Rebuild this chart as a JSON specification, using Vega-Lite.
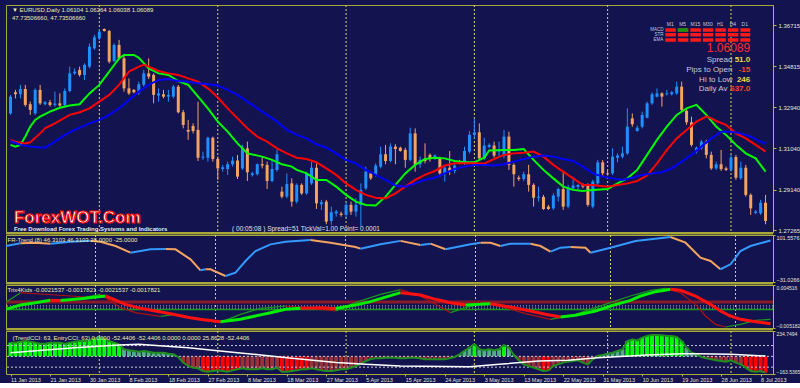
{
"$schema":"https://vega.github.io/schema/vega-lite/v6.json",
"background":"#13134f",
"padding":{"left":4,"top":4,"right":0,"bottom":0},
"spacing":3,
"bounds":"flush",
"resolve":{"scale":{"color":"independent"}},
"config":{
 "view":{"stroke":"#a8a838","strokeWidth":1,"fill":"#13134f"},
 "axis":{"labelFont":"Liberation Sans","labelFontSize":6,"labelColor":"#e4e4d8","domainColor":"#b8b840","tickColor":"#b8b840","tickSize":3,"grid":false,"labelPadding":2},
 "text":{"font":"Liberation Sans"}
},
"datasets":{
"seps":[{"i":18},{"i":42},{"i":68},{"i":94},{"i":121},{"i":146}],
"candles":[
{"i":0,"o":1.3265,"h":1.335,"l":1.3258,"c":1.3342},
{"i":1,"o":1.3362,"h":1.3373,"l":1.3334,"c":1.3353},
{"i":2,"o":1.3353,"h":1.3396,"l":1.3334,"c":1.3377},
{"i":3,"o":1.3377,"h":1.3396,"l":1.3296,"c":1.3304},
{"i":4,"o":1.3307,"h":1.3319,"l":1.3258,"c":1.3281},
{"i":5,"o":1.3265,"h":1.338,"l":1.3258,"c":1.3373},
{"i":6,"o":1.3373,"h":1.3396,"l":1.3304,"c":1.3311},
{"i":7,"o":1.3307,"h":1.3322,"l":1.3301,"c":1.3316},
{"i":8,"o":1.3316,"h":1.3327,"l":1.3296,"c":1.3304},
{"i":9,"o":1.3304,"h":1.3365,"l":1.3296,"c":1.331},
{"i":10,"o":1.3311,"h":1.3357,"l":1.3296,"c":1.3301},
{"i":11,"o":1.3304,"h":1.338,"l":1.3296,"c":1.3368},
{"i":12,"o":1.3368,"h":1.348,"l":1.3362,"c":1.3449},
{"i":13,"o":1.3449,"h":1.3472,"l":1.3442,"c":1.3457},
{"i":14,"o":1.3465,"h":1.348,"l":1.3434,"c":1.3442},
{"i":15,"o":1.3442,"h":1.3495,"l":1.3419,"c":1.3488},
{"i":16,"o":1.348,"h":1.3587,"l":1.3472,"c":1.3572},
{"i":17,"o":1.3564,"h":1.3626,"l":1.3557,"c":1.3615},
{"i":18,"o":1.361,"h":1.3653,"l":1.3603,"c":1.3641},
{"i":19,"o":1.3653,"h":1.3656,"l":1.3641,"c":1.3644},
{"i":20,"o":1.3644,"h":1.3649,"l":1.3495,"c":1.3503},
{"i":21,"o":1.3506,"h":1.3587,"l":1.35,"c":1.358},
{"i":22,"o":1.358,"h":1.3603,"l":1.3511,"c":1.3518},
{"i":23,"o":1.3518,"h":1.3534,"l":1.3365,"c":1.338},
{"i":24,"o":1.338,"h":1.3426,"l":1.335,"c":1.3357},
{"i":25,"o":1.3373,"h":1.3377,"l":1.3357,"c":1.3362},
{"i":26,"o":1.3362,"h":1.3411,"l":1.335,"c":1.3399},
{"i":27,"o":1.3396,"h":1.3465,"l":1.3388,"c":1.3449},
{"i":28,"o":1.3449,"h":1.3518,"l":1.3423,"c":1.3434},
{"i":29,"o":1.3442,"h":1.3449,"l":1.3311,"c":1.335},
{"i":30,"o":1.3347,"h":1.338,"l":1.3319,"c":1.3357},
{"i":31,"o":1.3353,"h":1.3373,"l":1.3334,"c":1.3342},
{"i":32,"o":1.3342,"h":1.3373,"l":1.3319,"c":1.335},
{"i":33,"o":1.3342,"h":1.3396,"l":1.3334,"c":1.3388},
{"i":34,"o":1.3388,"h":1.3396,"l":1.3265,"c":1.327},
{"i":35,"o":1.327,"h":1.3281,"l":1.3196,"c":1.3212},
{"i":36,"o":1.3189,"h":1.3235,"l":1.3143,"c":1.3181},
{"i":37,"o":1.3207,"h":1.3219,"l":1.3173,"c":1.3184},
{"i":38,"o":1.3189,"h":1.3319,"l":1.3046,"c":1.3061},
{"i":39,"o":1.3061,"h":1.3089,"l":1.3051,"c":1.3066},
{"i":40,"o":1.3061,"h":1.3158,"l":1.3043,"c":1.3153},
{"i":41,"o":1.3153,"h":1.3158,"l":1.3043,"c":1.3055},
{"i":42,"o":1.3055,"h":1.3066,"l":1.2959,"c":1.3012},
{"i":43,"o":1.3009,"h":1.3028,"l":1.2997,"c":1.3017},
{"i":44,"o":1.3009,"h":1.3043,"l":1.2982,"c":1.3031},
{"i":45,"o":1.3031,"h":1.3066,"l":1.302,"c":1.3048},
{"i":46,"o":1.3048,"h":1.3074,"l":1.2963,"c":1.2974},
{"i":47,"o":1.3012,"h":1.312,"l":1.3005,"c":1.3107},
{"i":48,"o":1.3104,"h":1.3135,"l":1.2954,"c":1.2994},
{"i":49,"o":1.2982,"h":1.2997,"l":1.2974,"c":1.2989},
{"i":50,"o":1.2985,"h":1.3035,"l":1.2979,"c":1.3031},
{"i":51,"o":1.3031,"h":1.3066,"l":1.3012,"c":1.3025},
{"i":52,"o":1.3028,"h":1.3043,"l":1.2917,"c":1.2954},
{"i":53,"o":1.2954,"h":1.3051,"l":1.2948,"c":1.3009},
{"i":54,"o":1.3005,"h":1.3097,"l":1.2997,"c":1.3077},
{"i":55,"o":1.2905,"h":1.2928,"l":1.2874,"c":1.2882},
{"i":56,"o":1.2882,"h":1.2989,"l":1.2874,"c":1.294},
{"i":57,"o":1.2943,"h":1.2966,"l":1.2836,"c":1.2859},
{"i":58,"o":1.2859,"h":1.2943,"l":1.2851,"c":1.2936},
{"i":59,"o":1.2936,"h":1.2943,"l":1.289,"c":1.2897},
{"i":60,"o":1.2897,"h":1.2997,"l":1.289,"c":1.2989},
{"i":61,"o":1.2943,"h":1.3043,"l":1.2936,"c":1.3015},
{"i":62,"o":1.3015,"h":1.3035,"l":1.2825,"c":1.2851},
{"i":63,"o":1.2847,"h":1.2867,"l":1.2821,"c":1.2856},
{"i":64,"o":1.2859,"h":1.2867,"l":1.2755,"c":1.2767},
{"i":65,"o":1.277,"h":1.2836,"l":1.2752,"c":1.281},
{"i":66,"o":1.2805,"h":1.2821,"l":1.279,"c":1.2813},
{"i":67,"o":1.2804,"h":1.2813,"l":1.279,"c":1.2798},
{"i":68,"o":1.2798,"h":1.2859,"l":1.2782,"c":1.2844},
{"i":69,"o":1.2844,"h":1.2859,"l":1.2798,"c":1.2813},
{"i":70,"o":1.2813,"h":1.2874,"l":1.279,"c":1.2844},
{"i":71,"o":1.2844,"h":1.2943,"l":1.2744,"c":1.2913},
{"i":72,"o":1.292,"h":1.302,"l":1.2913,"c":1.2997},
{"i":73,"o":1.2989,"h":1.2997,"l":1.2959,"c":1.2966},
{"i":74,"o":1.2982,"h":1.3035,"l":1.2974,"c":1.3025},
{"i":75,"o":1.302,"h":1.3112,"l":1.3012,"c":1.3077},
{"i":76,"o":1.3077,"h":1.312,"l":1.3031,"c":1.3046},
{"i":77,"o":1.3046,"h":1.3127,"l":1.304,"c":1.3112},
{"i":78,"o":1.3112,"h":1.3123,"l":1.3031,"c":1.3101},
{"i":79,"o":1.3107,"h":1.3112,"l":1.3089,"c":1.3092},
{"i":80,"o":1.3097,"h":1.3107,"l":1.3015,"c":1.3051},
{"i":81,"o":1.3051,"h":1.3199,"l":1.3043,"c":1.3173},
{"i":82,"o":1.3173,"h":1.3196,"l":1.2997,"c":1.3028},
{"i":83,"o":1.3031,"h":1.3066,"l":1.3015,"c":1.3051},
{"i":84,"o":1.3055,"h":1.3127,"l":1.3035,"c":1.3046},
{"i":85,"o":1.3074,"h":1.3081,"l":1.3043,"c":1.3055},
{"i":86,"o":1.3058,"h":1.3077,"l":1.3051,"c":1.3071},
{"i":87,"o":1.3055,"h":1.3066,"l":1.2974,"c":1.2989},
{"i":88,"o":1.2989,"h":1.3028,"l":1.2951,"c":1.3015},
{"i":89,"o":1.3015,"h":1.3092,"l":1.2982,"c":1.3},
{"i":90,"o":1.3,"h":1.3035,"l":1.2989,"c":1.3025},
{"i":91,"o":1.3043,"h":1.3051,"l":1.3031,"c":1.3035},
{"i":92,"o":1.3035,"h":1.3112,"l":1.3028,"c":1.3092},
{"i":93,"o":1.3089,"h":1.3184,"l":1.3081,"c":1.3166},
{"i":94,"o":1.3166,"h":1.3242,"l":1.315,"c":1.3178},
{"i":95,"o":1.3178,"h":1.3219,"l":1.3046,"c":1.3058},
{"i":96,"o":1.3058,"h":1.3153,"l":1.3051,"c":1.3117},
{"i":97,"o":1.3111,"h":1.3127,"l":1.3104,"c":1.312},
{"i":98,"o":1.3117,"h":1.3135,"l":1.3061,"c":1.3071},
{"i":99,"o":1.3089,"h":1.3135,"l":1.3066,"c":1.3097},
{"i":100,"o":1.3071,"h":1.3189,"l":1.3058,"c":1.3158},
{"i":101,"o":1.3158,"h":1.3181,"l":1.3005,"c":1.3028},
{"i":102,"o":1.3028,"h":1.3035,"l":1.2928,"c":1.2985},
{"i":103,"o":1.2969,"h":1.2979,"l":1.2954,"c":1.2963},
{"i":104,"o":1.2963,"h":1.2997,"l":1.2954,"c":1.2985},
{"i":105,"o":1.2985,"h":1.3028,"l":1.2905,"c":1.2936},
{"i":106,"o":1.2936,"h":1.2943,"l":1.2836,"c":1.2877},
{"i":107,"o":1.2877,"h":1.2928,"l":1.2859,"c":1.2882},
{"i":108,"o":1.2881,"h":1.289,"l":1.2821,"c":1.2825},
{"i":109,"o":1.2836,"h":1.2844,"l":1.2821,"c":1.2825},
{"i":110,"o":1.2828,"h":1.2897,"l":1.2821,"c":1.2887},
{"i":111,"o":1.2882,"h":1.2924,"l":1.2859,"c":1.2917},
{"i":112,"o":1.2917,"h":1.2997,"l":1.2821,"c":1.2836},
{"i":113,"o":1.2836,"h":1.2936,"l":1.2828,"c":1.2924},
{"i":114,"o":1.292,"h":1.2974,"l":1.2913,"c":1.2933},
{"i":115,"o":1.2927,"h":1.2939,"l":1.2913,"c":1.2936},
{"i":116,"o":1.2939,"h":1.2943,"l":1.292,"c":1.2928},
{"i":117,"o":1.2936,"h":1.2943,"l":1.2836,"c":1.2844},
{"i":118,"o":1.2836,"h":1.2959,"l":1.2828,"c":1.2951},
{"i":119,"o":1.2943,"h":1.3051,"l":1.2936,"c":1.304},
{"i":120,"o":1.304,"h":1.3051,"l":1.2979,"c":1.2989},
{"i":121,"o":1.2989,"h":1.3,"l":1.2979,"c":1.2985},
{"i":122,"o":1.2989,"h":1.3104,"l":1.2982,"c":1.3066},
{"i":123,"o":1.3061,"h":1.3081,"l":1.304,"c":1.3071},
{"i":124,"o":1.3066,"h":1.3112,"l":1.3058,"c":1.3081},
{"i":125,"o":1.3081,"h":1.3288,"l":1.3074,"c":1.3204},
{"i":126,"o":1.3242,"h":1.3265,"l":1.3204,"c":1.3215},
{"i":127,"o":1.3184,"h":1.3209,"l":1.3181,"c":1.3199},
{"i":128,"o":1.3204,"h":1.3273,"l":1.3196,"c":1.3258},
{"i":129,"o":1.3245,"h":1.3319,"l":1.3242,"c":1.3311},
{"i":130,"o":1.3311,"h":1.3362,"l":1.3304,"c":1.3353},
{"i":131,"o":1.3342,"h":1.338,"l":1.3338,"c":1.3357},
{"i":132,"o":1.3357,"h":1.3362,"l":1.3296,"c":1.3342},
{"i":133,"o":1.3353,"h":1.3373,"l":1.3347,"c":1.3357},
{"i":134,"o":1.3353,"h":1.3368,"l":1.3347,"c":1.3362},
{"i":135,"o":1.3357,"h":1.3411,"l":1.335,"c":1.3388},
{"i":136,"o":1.3388,"h":1.3411,"l":1.3273,"c":1.3281},
{"i":137,"o":1.3277,"h":1.3288,"l":1.3212,"c":1.3224},
{"i":138,"o":1.3224,"h":1.325,"l":1.3112,"c":1.312},
{"i":139,"o":1.3089,"h":1.3112,"l":1.3081,"c":1.3107},
{"i":140,"o":1.3104,"h":1.3143,"l":1.3097,"c":1.3135},
{"i":141,"o":1.3135,"h":1.3143,"l":1.3058,"c":1.3074},
{"i":142,"o":1.3074,"h":1.3089,"l":1.3005,"c":1.3012},
{"i":143,"o":1.3012,"h":1.3043,"l":1.3005,"c":1.3031},
{"i":144,"o":1.3031,"h":1.3097,"l":1.3,"c":1.3009},
{"i":145,"o":1.3012,"h":1.302,"l":1.3,"c":1.3005},
{"i":146,"o":1.3005,"h":1.3074,"l":1.2997,"c":1.3061},
{"i":147,"o":1.3064,"h":1.3074,"l":1.2959,"c":1.2969},
{"i":148,"o":1.2966,"h":1.3043,"l":1.2959,"c":1.3015},
{"i":149,"o":1.3015,"h":1.3028,"l":1.2882,"c":1.289},
{"i":150,"o":1.289,"h":1.2897,"l":1.2798,"c":1.2828},
{"i":151,"o":1.2807,"h":1.2821,"l":1.2801,"c":1.2813},
{"i":152,"o":1.2805,"h":1.2867,"l":1.2798,"c":1.2854},
{"i":153,"o":1.2854,"h":1.289,"l":1.2755,"c":1.277}
],
"ma":[
{"i":0,"v":1.312,"s":"fast"},{"i":1,"v":1.3112,"s":"fast"},{"i":2,"v":1.312,"s":"fast"},{"i":3,"v":1.3158,"s":"fast"},{"i":4,"v":1.3204,"s":"fast"},{"i":5,"v":1.3235,"s":"fast"},{"i":6,"v":1.325,"s":"fast"},{"i":8,"v":1.3273,"s":"fast"},{"i":10,"v":1.3291,"s":"fast"},{"i":12,"v":1.3301,"s":"fast"},{"i":14,"v":1.3307,"s":"fast"},{"i":16,"v":1.3357,"s":"fast"},{"i":18,"v":1.3396,"s":"fast"},{"i":20,"v":1.3457,"s":"fast"},{"i":22,"v":1.3518,"s":"fast"},{"i":23,"v":1.3534,"s":"fast"},{"i":25,"v":1.3534,"s":"fast"},{"i":26,"v":1.3521,"s":"fast"},{"i":28,"v":1.3472,"s":"fast"},{"i":30,"v":1.3449,"s":"fast"},{"i":32,"v":1.3442,"s":"fast"},{"i":34,"v":1.3414,"s":"fast"},{"i":36,"v":1.3396,"s":"fast"},{"i":38,"v":1.3342,"s":"fast"},{"i":40,"v":1.3288,"s":"fast"},{"i":42,"v":1.3227,"s":"fast"},{"i":44,"v":1.3181,"s":"fast"},{"i":46,"v":1.3127,"s":"fast"},{"i":48,"v":1.3081,"s":"fast"},{"i":51,"v":1.3066,"s":"fast"},{"i":53,"v":1.3051,"s":"fast"},{"i":55,"v":1.3031,"s":"fast"},{"i":57,"v":1.302,"s":"fast"},{"i":58,"v":1.3005,"s":"fast"},{"i":60,"v":1.2989,"s":"fast"},{"i":62,"v":1.2959,"s":"fast"},{"i":64,"v":1.2959,"s":"fast"},{"i":66,"v":1.2928,"s":"fast"},{"i":68,"v":1.289,"s":"fast"},{"i":70,"v":1.2859,"s":"fast"},{"i":72,"v":1.2844,"s":"fast"},{"i":74,"v":1.2841,"s":"fast"},{"i":76,"v":1.2882,"s":"fast"},{"i":78,"v":1.2936,"s":"fast"},{"i":80,"v":1.2989,"s":"fast"},{"i":82,"v":1.3028,"s":"fast"},{"i":84,"v":1.3055,"s":"fast"},{"i":86,"v":1.3061,"s":"fast"},{"i":88,"v":1.3058,"s":"fast"},{"i":90,"v":1.3046,"s":"fast"},{"i":92,"v":1.304,"s":"fast"},{"i":94,"v":1.304,"s":"fast"},{"i":96,"v":1.3061,"s":"fast"},{"i":97,"v":1.3094,"s":"fast"},{"i":100,"v":1.3097,"s":"fast"},{"i":102,"v":1.3097,"s":"fast"},{"i":104,"v":1.3101,"s":"fast"},{"i":106,"v":1.3051,"s":"fast"},{"i":108,"v":1.3005,"s":"fast"},{"i":110,"v":1.2966,"s":"fast"},{"i":112,"v":1.2928,"s":"fast"},{"i":114,"v":1.2913,"s":"fast"},{"i":116,"v":1.2908,"s":"fast"},{"i":118,"v":1.2913,"s":"fast"},{"i":121,"v":1.2917,"s":"fast"},{"i":123,"v":1.2943,"s":"fast"},{"i":125,"v":1.2966,"s":"fast"},{"i":127,"v":1.3005,"s":"fast"},{"i":129,"v":1.3074,"s":"fast"},{"i":131,"v":1.3143,"s":"fast"},{"i":133,"v":1.3204,"s":"fast"},{"i":135,"v":1.3258,"s":"fast"},{"i":137,"v":1.3288,"s":"fast"},{"i":139,"v":1.3304,"s":"fast"},{"i":141,"v":1.3258,"s":"fast"},{"i":143,"v":1.3204,"s":"fast"},{"i":145,"v":1.3166,"s":"fast"},{"i":147,"v":1.312,"s":"fast"},{"i":149,"v":1.3081,"s":"fast"},{"i":151,"v":1.3058,"s":"fast"},{"i":153,"v":1.2997,"s":"fast"},
{"i":0,"v":1.3143,"s":"mid"},{"i":1,"v":1.3135,"s":"mid"},{"i":3,"v":1.3127,"s":"mid"},{"i":4,"v":1.3132,"s":"mid"},{"i":6,"v":1.3173,"s":"mid"},{"i":7,"v":1.3196,"s":"mid"},{"i":9,"v":1.3219,"s":"mid"},{"i":12,"v":1.3258,"s":"mid"},{"i":14,"v":1.327,"s":"mid"},{"i":16,"v":1.3288,"s":"mid"},{"i":18,"v":1.3319,"s":"mid"},{"i":20,"v":1.335,"s":"mid"},{"i":22,"v":1.3396,"s":"mid"},{"i":24,"v":1.3457,"s":"mid"},{"i":26,"v":1.348,"s":"mid"},{"i":27,"v":1.3488,"s":"mid"},{"i":28,"v":1.348,"s":"mid"},{"i":30,"v":1.346,"s":"mid"},{"i":32,"v":1.3449,"s":"mid"},{"i":34,"v":1.3442,"s":"mid"},{"i":36,"v":1.3426,"s":"mid"},{"i":38,"v":1.3411,"s":"mid"},{"i":40,"v":1.338,"s":"mid"},{"i":42,"v":1.3338,"s":"mid"},{"i":44,"v":1.3288,"s":"mid"},{"i":46,"v":1.3242,"s":"mid"},{"i":48,"v":1.3196,"s":"mid"},{"i":50,"v":1.3158,"s":"mid"},{"i":52,"v":1.3135,"s":"mid"},{"i":54,"v":1.3104,"s":"mid"},{"i":56,"v":1.3081,"s":"mid"},{"i":58,"v":1.3061,"s":"mid"},{"i":60,"v":1.3055,"s":"mid"},{"i":62,"v":1.304,"s":"mid"},{"i":64,"v":1.3012,"s":"mid"},{"i":66,"v":1.2982,"s":"mid"},{"i":68,"v":1.2943,"s":"mid"},{"i":70,"v":1.2913,"s":"mid"},{"i":72,"v":1.289,"s":"mid"},{"i":74,"v":1.2877,"s":"mid"},{"i":76,"v":1.2874,"s":"mid"},{"i":78,"v":1.2897,"s":"mid"},{"i":80,"v":1.2928,"s":"mid"},{"i":82,"v":1.2959,"s":"mid"},{"i":84,"v":1.2982,"s":"mid"},{"i":86,"v":1.3,"s":"mid"},{"i":88,"v":1.3025,"s":"mid"},{"i":90,"v":1.3035,"s":"mid"},{"i":92,"v":1.3035,"s":"mid"},{"i":94,"v":1.3035,"s":"mid"},{"i":96,"v":1.3034,"s":"mid"},{"i":98,"v":1.3055,"s":"mid"},{"i":100,"v":1.3074,"s":"mid"},{"i":102,"v":1.3081,"s":"mid"},{"i":104,"v":1.3084,"s":"mid"},{"i":106,"v":1.3089,"s":"mid"},{"i":108,"v":1.3066,"s":"mid"},{"i":110,"v":1.3028,"s":"mid"},{"i":112,"v":1.2997,"s":"mid"},{"i":114,"v":1.2966,"s":"mid"},{"i":116,"v":1.2936,"s":"mid"},{"i":118,"v":1.2936,"s":"mid"},{"i":121,"v":1.2928,"s":"mid"},{"i":123,"v":1.2936,"s":"mid"},{"i":125,"v":1.2943,"s":"mid"},{"i":127,"v":1.2954,"s":"mid"},{"i":129,"v":1.2979,"s":"mid"},{"i":131,"v":1.3035,"s":"mid"},{"i":133,"v":1.3097,"s":"mid"},{"i":135,"v":1.315,"s":"mid"},{"i":137,"v":1.3189,"s":"mid"},{"i":139,"v":1.3227,"s":"mid"},{"i":141,"v":1.325,"s":"mid"},{"i":142,"v":1.3242,"s":"mid"},{"i":143,"v":1.323,"s":"mid"},{"i":145,"v":1.3212,"s":"mid"},{"i":147,"v":1.3173,"s":"mid"},{"i":149,"v":1.315,"s":"mid"},{"i":151,"v":1.312,"s":"mid"},{"i":153,"v":1.3089,"s":"mid"},
{"i":0,"v":1.3138,"s":"slow"},{"i":2,"v":1.312,"s":"slow"},{"i":4,"v":1.3112,"s":"slow"},{"i":7,"v":1.3107,"s":"slow"},{"i":9,"v":1.3135,"s":"slow"},{"i":11,"v":1.3166,"s":"slow"},{"i":13,"v":1.3189,"s":"slow"},{"i":16,"v":1.3219,"s":"slow"},{"i":18,"v":1.3235,"s":"slow"},{"i":20,"v":1.3258,"s":"slow"},{"i":22,"v":1.3288,"s":"slow"},{"i":24,"v":1.3327,"s":"slow"},{"i":26,"v":1.3365,"s":"slow"},{"i":28,"v":1.3396,"s":"slow"},{"i":30,"v":1.3419,"s":"slow"},{"i":32,"v":1.3423,"s":"slow"},{"i":34,"v":1.3414,"s":"slow"},{"i":36,"v":1.3411,"s":"slow"},{"i":38,"v":1.3403,"s":"slow"},{"i":40,"v":1.3399,"s":"slow"},{"i":42,"v":1.3393,"s":"slow"},{"i":44,"v":1.3373,"s":"slow"},{"i":46,"v":1.335,"s":"slow"},{"i":48,"v":1.3319,"s":"slow"},{"i":50,"v":1.3288,"s":"slow"},{"i":52,"v":1.3258,"s":"slow"},{"i":54,"v":1.3227,"s":"slow"},{"i":56,"v":1.3189,"s":"slow"},{"i":58,"v":1.3166,"s":"slow"},{"i":60,"v":1.315,"s":"slow"},{"i":62,"v":1.3123,"s":"slow"},{"i":64,"v":1.3107,"s":"slow"},{"i":66,"v":1.3081,"s":"slow"},{"i":68,"v":1.3051,"s":"slow"},{"i":70,"v":1.3035,"s":"slow"},{"i":72,"v":1.3005,"s":"slow"},{"i":74,"v":1.2982,"s":"slow"},{"i":76,"v":1.2959,"s":"slow"},{"i":78,"v":1.2933,"s":"slow"},{"i":80,"v":1.2928,"s":"slow"},{"i":82,"v":1.2943,"s":"slow"},{"i":84,"v":1.2959,"s":"slow"},{"i":86,"v":1.2969,"s":"slow"},{"i":88,"v":1.2989,"s":"slow"},{"i":90,"v":1.3009,"s":"slow"},{"i":92,"v":1.302,"s":"slow"},{"i":94,"v":1.3028,"s":"slow"},{"i":96,"v":1.3028,"s":"slow"},{"i":98,"v":1.3025,"s":"slow"},{"i":100,"v":1.3031,"s":"slow"},{"i":102,"v":1.3043,"s":"slow"},{"i":104,"v":1.3055,"s":"slow"},{"i":106,"v":1.3066,"s":"slow"},{"i":108,"v":1.3071,"s":"slow"},{"i":110,"v":1.3066,"s":"slow"},{"i":112,"v":1.3055,"s":"slow"},{"i":114,"v":1.3046,"s":"slow"},{"i":116,"v":1.302,"s":"slow"},{"i":118,"v":1.2989,"s":"slow"},{"i":120,"v":1.2974,"s":"slow"},{"i":122,"v":1.2966,"s":"slow"},{"i":124,"v":1.2959,"s":"slow"},{"i":126,"v":1.2969,"s":"slow"},{"i":128,"v":1.2982,"s":"slow"},{"i":130,"v":1.2989,"s":"slow"},{"i":132,"v":1.2994,"s":"slow"},{"i":134,"v":1.3012,"s":"slow"},{"i":136,"v":1.3043,"s":"slow"},{"i":138,"v":1.3074,"s":"slow"},{"i":140,"v":1.3112,"s":"slow"},{"i":142,"v":1.315,"s":"slow"},{"i":144,"v":1.3181,"s":"slow"},{"i":146,"v":1.3181,"s":"slow"},{"i":148,"v":1.3173,"s":"slow"},{"i":150,"v":1.3158,"s":"slow"},{"i":152,"v":1.3135,"s":"slow"},{"i":153,"v":1.3127,"s":"slow"}
],
"fr":[
{"i":0,"v":70.5,"s":1,"c":"b"},{"i":3,"v":78,"s":1,"c":"b"},
{"i":3,"v":78,"s":2,"c":"o"},{"i":6,"v":79.9,"s":2,"c":"o"},{"i":9,"v":77.1,"s":2,"c":"o"},
{"i":9,"v":77.1,"s":3,"c":"b"},{"i":13,"v":82.7,"s":3,"c":"b"},{"i":17,"v":85,"s":3,"c":"b"},
{"i":17,"v":85,"s":4,"c":"o"},{"i":19,"v":82.7,"s":4,"c":"o"},{"i":22,"v":70.5,"s":4,"c":"o"},{"i":25,"v":51.6,"s":4,"c":"o"},
{"i":25,"v":51.6,"s":5,"c":"b"},{"i":29,"v":61.2,"s":5,"c":"b"},{"i":32,"v":62,"s":5,"c":"b"},
{"i":32,"v":62,"s":6,"c":"o"},{"i":34,"v":61.2,"s":6,"c":"o"},{"i":37,"v":33,"s":6,"c":"o"},{"i":39,"v":1.9,"s":6,"c":"o"},
{"i":39,"v":1.9,"s":7,"c":"b"},{"i":40,"v":4.8,"s":7,"c":"b"},
{"i":40,"v":4.8,"s":8,"c":"o"},{"i":41,"v":4.8,"s":8,"c":"o"},{"i":44,"v":-14.1,"s":8,"c":"o"},
{"i":44,"v":-14.1,"s":9,"c":"b"},{"i":46,"v":-4.8,"s":9,"c":"b"},{"i":48,"v":28.2,"s":9,"c":"b"},{"i":50,"v":56.4,"s":9,"c":"b"},{"i":53,"v":75.2,"s":9,"c":"b"},{"i":56,"v":82.7,"s":9,"c":"b"},{"i":61,"v":87.5,"s":9,"c":"b"},
{"i":61,"v":87.5,"s":10,"c":"o"},{"i":65,"v":79.9,"s":10,"c":"o"},{"i":70,"v":67.7,"s":10,"c":"o"},{"i":71,"v":63,"s":10,"c":"o"},
{"i":71,"v":63,"s":11,"c":"b"},{"i":75,"v":75.2,"s":11,"c":"b"},{"i":79,"v":85,"s":11,"c":"b"},
{"i":79,"v":85,"s":12,"c":"o"},{"i":83,"v":73.3,"s":12,"c":"o"},
{"i":83,"v":73.3,"s":13,"c":"b"},{"i":85,"v":77.1,"s":13,"c":"b"},
{"i":85,"v":77.1,"s":14,"c":"o"},{"i":88,"v":61.2,"s":14,"c":"o"},
{"i":88,"v":61.2,"s":15,"c":"b"},{"i":93,"v":75.2,"s":15,"c":"b"},{"i":95,"v":79.9,"s":15,"c":"b"},
{"i":95,"v":79.9,"s":16,"c":"o"},{"i":97,"v":79.9,"s":16,"c":"o"},{"i":99,"v":70.5,"s":16,"c":"o"},
{"i":99,"v":70.5,"s":17,"c":"b"},{"i":101,"v":77.1,"s":17,"c":"b"},{"i":105,"v":77.1,"s":17,"c":"b"},
{"i":105,"v":77.1,"s":18,"c":"o"},{"i":107,"v":70.5,"s":18,"c":"o"},{"i":109,"v":54.5,"s":18,"c":"o"},
{"i":109,"v":54.5,"s":19,"c":"b"},{"i":111,"v":65.8,"s":19,"c":"b"},{"i":113,"v":67.7,"s":19,"c":"b"},
{"i":113,"v":67.7,"s":20,"c":"o"},{"i":116,"v":65.8,"s":20,"c":"o"},{"i":117,"v":51.6,"s":20,"c":"o"},
{"i":117,"v":51.6,"s":21,"c":"b"},{"i":121,"v":65.8,"s":21,"c":"b"},{"i":126,"v":84.6,"s":21,"c":"b"},{"i":133,"v":95.9,"s":21,"c":"b"},
{"i":133,"v":95.9,"s":22,"c":"o"},{"i":136,"v":79.9,"s":22,"c":"o"},{"i":139,"v":37.6,"s":22,"c":"o"},{"i":141,"v":28.2,"s":22,"c":"o"},{"i":143,"v":5,"s":22,"c":"o"},
{"i":143,"v":5,"s":23,"c":"b"},{"i":145,"v":18.9,"s":23,"c":"b"},{"i":147,"v":56.4,"s":23,"c":"b"},{"i":149,"v":70.5,"s":23,"c":"b"},{"i":153,"v":86,"s":23,"c":"b"}
],
"trixA":[
{"i":0,"v":-0.000972,"s":1,"c":"G"},{"i":3,"v":0.000005,"s":1,"c":"G"},{"i":6,"v":0.000531,"s":1,"c":"G"},{"i":9,"v":0.001058,"s":1,"c":"G"},
{"i":9,"v":0.001058,"s":2,"c":"R"},{"i":11,"v":0.001,"s":2,"c":"R"},
{"i":11,"v":0.001,"s":3,"c":"G"},{"i":15,"v":0.001433,"s":3,"c":"G"},{"i":20,"v":0.002035,"s":3,"c":"G"},
{"i":20,"v":0.002035,"s":4,"c":"R"},{"i":24,"v":0.000155,"s":4,"c":"R"},{"i":27,"v":-0.000747,"s":4,"c":"R"},{"i":33,"v":-0.001949,"s":4,"c":"R"},{"i":37,"v":-0.002851,"s":4,"c":"R"},{"i":39,"v":-0.003227,"s":4,"c":"R"},{"i":43,"v":-0.003753,"s":4,"c":"R"},
{"i":43,"v":-0.003753,"s":5,"c":"G"},{"i":47,"v":-0.003227,"s":5,"c":"G"},{"i":53,"v":-0.001724,"s":5,"c":"G"},{"i":56,"v":-0.000972,"s":5,"c":"G"},{"i":59,"v":-0.000747,"s":5,"c":"G"},
{"i":59,"v":-0.000747,"s":6,"c":"R"},{"i":63,"v":-0.0006,"s":6,"c":"R"},{"i":66,"v":-0.0008,"s":6,"c":"R"},
{"i":66,"v":-0.0008,"s":7,"c":"G"},{"i":70,"v":0.000005,"s":7,"c":"G"},{"i":73,"v":0.000757,"s":7,"c":"G"},{"i":79,"v":0.002786,"s":7,"c":"G"},
{"i":79,"v":0.002786,"s":8,"c":"R"},{"i":83,"v":0.00226,"s":8,"c":"R"},{"i":86,"v":0.001283,"s":8,"c":"R"},{"i":89,"v":0.000531,"s":8,"c":"R"},{"i":92,"v":0.000005,"s":8,"c":"R"},
{"i":92,"v":0.000005,"s":9,"c":"G"},{"i":95,"v":0.000155,"s":9,"c":"G"},{"i":97,"v":0.000306,"s":9,"c":"G"},
{"i":97,"v":0.000306,"s":10,"c":"R"},{"i":101,"v":-0.000446,"s":10,"c":"R"},{"i":105,"v":-0.001348,"s":10,"c":"R"},{"i":108,"v":-0.0021,"s":10,"c":"R"},{"i":111,"v":-0.002701,"s":10,"c":"R"},
{"i":111,"v":-0.002701,"s":11,"c":"G"},{"i":114,"v":-0.002325,"s":11,"c":"G"},{"i":118,"v":-0.001348,"s":11,"c":"G"},{"i":121,"v":-0.00022,"s":11,"c":"G"},{"i":125,"v":0.001058,"s":11,"c":"G"},{"i":127,"v":0.002035,"s":11,"c":"G"},{"i":130,"v":0.003011,"s":11,"c":"G"},{"i":133,"v":0.003538,"s":11,"c":"G"},
{"i":133,"v":0.003538,"s":12,"c":"R"},{"i":135,"v":0.003312,"s":12,"c":"R"},{"i":138,"v":0.002035,"s":12,"c":"R"},{"i":141,"v":0.000155,"s":12,"c":"R"},{"i":143,"v":-0.001348,"s":12,"c":"R"},{"i":145,"v":-0.002475,"s":12,"c":"R"},{"i":147,"v":-0.003227,"s":12,"c":"R"},{"i":150,"v":-0.003753,"s":12,"c":"R"},{"i":153,"v":-0.004204,"s":12,"c":"R"}
],
"trixB":[
{"i":0,"v":0.000531,"s":1,"c":"g"},{"i":3,"v":0.002786,"s":1,"c":"g"},
{"i":3,"v":0.002786,"s":2,"c":"r"},{"i":10,"v":0.00226,"s":2,"c":"r"},{"i":16,"v":0.001809,"s":2,"c":"r"},
{"i":16,"v":0.001809,"s":3,"c":"g"},{"i":19,"v":0.00241,"s":3,"c":"g"},
{"i":19,"v":0.00241,"s":4,"c":"r"},{"i":23,"v":-0.000596,"s":4,"c":"r"},{"i":26,"v":-0.001724,"s":4,"c":"r"},{"i":31,"v":-0.002551,"s":4,"c":"r"},
{"i":31,"v":-0.002551,"s":5,"c":"g"},{"i":34,"v":-0.0021,"s":5,"c":"g"},
{"i":34,"v":-0.0021,"s":6,"c":"r"},{"i":40,"v":-0.003603,"s":6,"c":"r"},{"i":43,"v":-0.003904,"s":6,"c":"r"},
{"i":43,"v":-0.003904,"s":7,"c":"g"},{"i":47,"v":-0.0021,"s":7,"c":"g"},{"i":51,"v":-0.000747,"s":7,"c":"g"},{"i":56,"v":-0.00022,"s":7,"c":"g"},
{"i":56,"v":-0.00022,"s":8,"c":"r"},{"i":60,"v":-0.000596,"s":8,"c":"r"},{"i":66,"v":-0.001348,"s":8,"c":"r"},
{"i":66,"v":-0.001348,"s":9,"c":"g"},{"i":70,"v":0.000531,"s":9,"c":"g"},{"i":75,"v":0.00241,"s":9,"c":"g"},{"i":79,"v":0.003463,"s":9,"c":"g"},
{"i":79,"v":0.003463,"s":10,"c":"r"},{"i":83,"v":0.002035,"s":10,"c":"r"},{"i":86,"v":0.000155,"s":10,"c":"r"},{"i":89,"v":-0.001724,"s":10,"c":"r"},
{"i":89,"v":-0.001724,"s":11,"c":"g"},{"i":92,"v":-0.000596,"s":11,"c":"g"},{"i":96,"v":0.000531,"s":11,"c":"g"},
{"i":96,"v":0.000531,"s":12,"c":"r"},{"i":100,"v":-0.000596,"s":12,"c":"r"},{"i":104,"v":-0.001949,"s":12,"c":"r"},{"i":109,"v":-0.003227,"s":12,"c":"r"},
{"i":109,"v":-0.003227,"s":13,"c":"g"},{"i":114,"v":-0.0021,"s":13,"c":"g"},{"i":118,"v":-0.000596,"s":13,"c":"g"},{"i":121,"v":0.000531,"s":13,"c":"g"},{"i":125,"v":0.002035,"s":13,"c":"g"},{"i":129,"v":0.003312,"s":13,"c":"g"},{"i":132,"v":0.003764,"s":13,"c":"g"},
{"i":132,"v":0.003764,"s":14,"c":"r"},{"i":135,"v":0.002786,"s":14,"c":"r"},{"i":138,"v":0.000155,"s":14,"c":"r"},{"i":140,"v":-0.002475,"s":14,"c":"r"},{"i":142,"v":-0.004355,"s":14,"c":"r"},{"i":144,"v":-0.004956,"s":14,"c":"r"},
{"i":144,"v":-0.004956,"s":15,"c":"g"},{"i":147,"v":-0.004355,"s":15,"c":"g"},{"i":150,"v":-0.003452,"s":15,"c":"g"},{"i":153,"v":-0.003227,"s":15,"c":"g"}
],
"cci":[
{"i":0,"v":127,"k":"G"},{"i":1,"v":127,"k":"G"},{"i":2,"v":136,"k":"G"},{"i":3,"v":142,"k":"G"},{"i":4,"v":136,"k":"G"},{"i":5,"v":127,"k":"G"},{"i":6,"v":117,"k":"G"},{"i":7,"v":117,"k":"G"},{"i":8,"v":127,"k":"G"},{"i":9,"v":127,"k":"G"},{"i":10,"v":127,"k":"G"},{"i":11,"v":117,"k":"G"},{"i":12,"v":127,"k":"G"},{"i":13,"v":136,"k":"G"},{"i":14,"v":142,"k":"G"},{"i":15,"v":142,"k":"G"},{"i":16,"v":148,"k":"G"},{"i":17,"v":167,"k":"G"},{"i":18,"v":173,"k":"G"},{"i":19,"v":167,"k":"G"},{"i":20,"v":142,"k":"G"},{"i":21,"v":127,"k":"G"},{"i":22,"v":111,"k":"G"},
{"i":23,"v":65,"k":"g"},{"i":24,"v":56,"k":"g"},{"i":25,"v":50,"k":"g"},{"i":26,"v":43,"k":"g"},{"i":27,"v":50,"k":"g"},{"i":28,"v":43,"k":"g"},{"i":29,"v":34,"k":"g"},{"i":30,"v":34,"k":"g"},{"i":31,"v":34,"k":"g"},{"i":32,"v":25,"k":"g"},{"i":33,"v":19,"k":"g"},
{"i":34,"v":-6,"k":"r"},{"i":35,"v":-58,"k":"r"},{"i":36,"v":-89,"k":"r"},{"i":37,"v":-105,"k":"r"},{"i":38,"v":-111,"k":"r"},
{"i":39,"v":-136,"k":"R"},{"i":40,"v":-142,"k":"R"},{"i":41,"v":-136,"k":"R"},{"i":42,"v":-130,"k":"R"},{"i":43,"v":-136,"k":"R"},{"i":44,"v":-142,"k":"R"},{"i":45,"v":-130,"k":"R"},{"i":46,"v":-120,"k":"R"},
{"i":47,"v":-111,"k":"r"},{"i":48,"v":-120,"k":"r"},{"i":49,"v":-120,"k":"r"},{"i":50,"v":-120,"k":"r"},{"i":51,"v":-111,"k":"r"},{"i":52,"v":-120,"k":"r"},{"i":53,"v":-120,"k":"r"},{"i":54,"v":-105,"k":"r"},
{"i":55,"v":-142,"k":"R"},{"i":56,"v":-142,"k":"R"},{"i":57,"v":-136,"k":"R"},{"i":58,"v":-130,"k":"R"},{"i":59,"v":-120,"k":"R"},{"i":60,"v":-120,"k":"R"},
{"i":61,"v":-111,"k":"r"},{"i":62,"v":-120,"k":"r"},{"i":63,"v":-130,"k":"r"},{"i":64,"v":-136,"k":"r"},{"i":65,"v":-136,"k":"r"},{"i":66,"v":-130,"k":"r"},{"i":67,"v":-120,"k":"r"},{"i":68,"v":-120,"k":"r"},{"i":69,"v":-105,"k":"r"},{"i":70,"v":-89,"k":"r"},{"i":71,"v":-68,"k":"r"},{"i":72,"v":-43,"k":"r"},{"i":73,"v":-25,"k":"r"},{"i":74,"v":-18,"k":"r"},{"i":75,"v":-18,"k":"r"},{"i":76,"v":-12,"k":"r"},{"i":77,"v":-12,"k":"r"},{"i":78,"v":-12,"k":"r"},{"i":79,"v":-18,"k":"r"},{"i":80,"v":-18,"k":"r"},{"i":81,"v":-12,"k":"r"},{"i":82,"v":-12,"k":"r"},{"i":83,"v":-18,"k":"r"},{"i":84,"v":-28,"k":"r"},{"i":85,"v":-28,"k":"r"},{"i":86,"v":-28,"k":"r"},{"i":87,"v":-28,"k":"r"},{"i":88,"v":-28,"k":"r"},{"i":89,"v":-18,"k":"r"},{"i":90,"v":-6,"k":"r"},
{"i":91,"v":19,"k":"g"},{"i":92,"v":50,"k":"g"},{"i":93,"v":80,"k":"g"},{"i":94,"v":111,"k":"G"},{"i":95,"v":65,"k":"g"},{"i":96,"v":56,"k":"g"},{"i":97,"v":65,"k":"g"},{"i":98,"v":56,"k":"g"},{"i":99,"v":65,"k":"g"},{"i":100,"v":105,"k":"G"},{"i":101,"v":80,"k":"g"},{"i":102,"v":12,"k":"g"},
{"i":103,"v":-37,"k":"r"},{"i":104,"v":-74,"k":"r"},{"i":105,"v":-89,"k":"r"},{"i":106,"v":-105,"k":"r"},{"i":107,"v":-120,"k":"r"},{"i":108,"v":-136,"k":"R"},{"i":109,"v":-130,"k":"R"},{"i":110,"v":-89,"k":"r"},{"i":111,"v":-74,"k":"r"},{"i":112,"v":-58,"k":"r"},{"i":113,"v":-49,"k":"r"},{"i":114,"v":-43,"k":"r"},{"i":115,"v":-37,"k":"r"},{"i":116,"v":-58,"k":"r"},{"i":117,"v":-74,"k":"r"},{"i":118,"v":-28,"k":"r"},
{"i":119,"v":3,"k":"g"},{"i":120,"v":12,"k":"g"},{"i":121,"v":25,"k":"g"},{"i":122,"v":34,"k":"g"},{"i":123,"v":50,"k":"g"},{"i":124,"v":65,"k":"g"},
{"i":125,"v":142,"k":"G"},{"i":126,"v":158,"k":"G"},{"i":127,"v":148,"k":"G"},{"i":128,"v":173,"k":"G"},{"i":129,"v":189,"k":"G"},{"i":130,"v":198,"k":"G"},{"i":131,"v":198,"k":"G"},{"i":132,"v":195,"k":"G"},{"i":133,"v":189,"k":"G"},{"i":134,"v":189,"k":"G"},{"i":135,"v":179,"k":"G"},{"i":136,"v":142,"k":"G"},
{"i":137,"v":80,"k":"g"},{"i":138,"v":34,"k":"g"},{"i":139,"v":19,"k":"g"},
{"i":140,"v":-6,"k":"r"},{"i":141,"v":-18,"k":"r"},{"i":142,"v":-28,"k":"r"},{"i":143,"v":-37,"k":"r"},{"i":144,"v":-43,"k":"r"},{"i":145,"v":-49,"k":"r"},{"i":146,"v":-37,"k":"r"},{"i":147,"v":-58,"k":"r"},{"i":148,"v":-74,"k":"r"},
{"i":149,"v":-105,"k":"R"},{"i":150,"v":-136,"k":"R"},{"i":151,"v":-142,"k":"R"},{"i":152,"v":-136,"k":"R"},{"i":153,"v":-151,"k":"R"}
],
"cciw":[
{"i":0,"v":34},{"i":13,"v":80},{"i":22,"v":105},{"i":26,"v":111},{"i":36,"v":80},{"i":46,"v":34},{"i":56,"v":-12},{"i":66,"v":-58},{"i":72,"v":-74},{"i":79,"v":-89},{"i":93,"v":-96},{"i":99,"v":-74},{"i":107,"v":-43},{"i":113,"v":-37},{"i":119,"v":-12},{"i":129,"v":12},{"i":136,"v":25},{"i":139,"v":25},{"i":146,"v":19},{"i":153,"v":3}
]
},
"vconcat":[
{
 "width":767,"height":227,
 "layer":[
  {"data":{"name":"seps"},"mark":{"type":"rule","strokeDash":[2,2],"color":"#d8d840","strokeWidth":1},
   "encoding":{"x":{"field":"i","type":"quantitative","title":null,"scale":{"domain":[0.1,153.5],"nice":false,"zero":false},"axis":null}}},
  {"data":{"name":"candles"},"mark":{"type":"rule","clip":true,"strokeWidth":1},
   "encoding":{"x":{"field":"i","type":"quantitative","title":null,"scale":{"domain":[0.1,153.5],"nice":false,"zero":false},"axis":null},
    "y":{"field":"l","type":"quantitative","title":null,"scale":{"domain":[1.27193,1.37635],"nice":false,"zero":false},"axis":{"orient":"right","values":[1.36715,1.35765,1.34815,1.3389,1.3294,1.3199,1.3104,1.3009,1.2914,1.28215,1.27265],"format":".5f"}},
    "y2":{"field":"h"},
    "color":{"condition":{"test":"datum.c >= datum.o","value":"#1e90ff"},"value":"#f4a460"}}},
  {"data":{"name":"candles"},"mark":{"type":"bar","size":3,"clip":true},
   "encoding":{"x":{"field":"i","type":"quantitative","title":null,"scale":{"domain":[0.1,153.5],"nice":false,"zero":false},"axis":null},
    "y":{"field":"o","type":"quantitative","title":null},
    "y2":{"field":"c"},
    "color":{"condition":{"test":"datum.c >= datum.o","value":"#1e90ff"},"value":"#f4a460"}}},
  {"data":{"name":"ma"},"mark":{"type":"line","strokeWidth":2,"clip":true},
   "encoding":{"x":{"field":"i","type":"quantitative","title":null,"axis":null},
    "y":{"field":"v","type":"quantitative","title":null},
    "color":{"field":"s","type":"nominal","scale":{"domain":["fast","mid","slow"],"range":["#00ff00","#ff0000","#0000ff"]},"legend":null}}},
  {"data":{"values":[{"t":"▼ EURUSD,Daily  1.06104 1.06264 1.06038 1.06089"}]},"mark":{"type":"text","align":"left","baseline":"middle","fontSize":6,"color":"#eeeea8"},
   "encoding":{"x":{"datum":0.3},"y":{"datum":1.37405},"text":{"field":"t"}}},
  {"data":{"values":[{"t":"47.73506660, 47.73506660"}]},"mark":{"type":"text","align":"left","baseline":"middle","fontSize":6,"color":"#eeeea8"},
   "encoding":{"x":{"datum":0.3},"y":{"datum":1.3706},"text":{"field":"t"}}},
  {"data":{"values":[{"t":"ForexWOT.Com"}]},"mark":{"type":"text","align":"left","baseline":"middle","fontWeight":"bold","fontSize":17,"color":"#ffffff","stroke":"#ff0000","strokeWidth":1.1},
   "encoding":{"x":{"datum":0.7},"y":{"datum":1.27828},"text":{"field":"t"}}},
  {"data":{"values":[{"t":"Free Download Forex Trading Systems and Indicators"}]},"mark":{"type":"text","align":"left","baseline":"middle","fontWeight":"bold","fontSize":6,"color":"#ececec"},
   "encoding":{"x":{"datum":0.7},"y":{"datum":1.27335},"text":{"field":"t"}}},
  {"data":{"values":[{"t":"( 00:05:08 )  Spread=51  TickVal=1.00  Point= 0.0001"}]},"mark":{"type":"text","align":"left","baseline":"middle","fontSize":6.5,"color":"#e0e0e8"},
   "encoding":{"x":{"datum":44.9},"y":{"datum":1.27345},"text":{"field":"t"}}},
  {"data":{"values":[{}]},"mark":{"type":"rule","strokeWidth":3.4,"strokeDash":[10.5,2],"color":"#ff1a1a"},
   "encoding":{"x":{"datum":132.7},"x2":{"datum":149.9},"y":{"datum":1.36485}}},
  {"data":{"values":[{}]},"mark":{"type":"rule","strokeWidth":3.4,"strokeDash":[10.5,2],"color":"#ff1a1a"},
   "encoding":{"x":{"datum":132.7},"x2":{"datum":149.9},"y":{"datum":1.36264}}},
  {"data":{"values":[{}]},"mark":{"type":"rule","strokeWidth":3.4,"strokeDash":[10.5,2],"color":"#ff1a1a"},
   "encoding":{"x":{"datum":132.7},"x2":{"datum":149.9},"y":{"datum":1.36025}}},
  {"data":{"values":[{}]},"mark":{"type":"rule","strokeWidth":3.4,"color":"#109a10"},
   "encoding":{"x":{"datum":135.2},"x2":{"datum":137.3},"y":{"datum":1.36485}}},
  {"data":{"values":[{"t":"MACD"}]},"mark":{"type":"text","align":"right","baseline":"middle","fontSize":4.5,"color":"#c8c8d8"},
   "encoding":{"x":{"datum":132.3},"y":{"datum":1.36508},"text":{"field":"t"}}},
  {"data":{"values":[{"t":"STR"}]},"mark":{"type":"text","align":"right","baseline":"middle","fontSize":4.5,"color":"#c8c8d8"},
   "encoding":{"x":{"datum":132.3},"y":{"datum":1.36278},"text":{"field":"t"}}},
  {"data":{"values":[{"t":"EMA"}]},"mark":{"type":"text","align":"right","baseline":"middle","fontSize":4.5,"color":"#c8c8d8"},
   "encoding":{"x":{"datum":132.3},"y":{"datum":1.36048},"text":{"field":"t"}}},
  {"data":{"values":[{"t":"M1"}]},"mark":{"type":"text","align":"center","baseline":"middle","fontSize":5,"color":"#c8c8d8"},
   "encoding":{"x":{"datum":133.7},"y":{"datum":1.3677},"text":{"field":"t"}}},
  {"data":{"values":[{"t":"M5"}]},"mark":{"type":"text","align":"center","baseline":"middle","fontSize":5,"color":"#c8c8d8"},
   "encoding":{"x":{"datum":136.2},"y":{"datum":1.3677},"text":{"field":"t"}}},
  {"data":{"values":[{"t":"M15"}]},"mark":{"type":"text","align":"center","baseline":"middle","fontSize":5,"color":"#c8c8d8"},
   "encoding":{"x":{"datum":138.8},"y":{"datum":1.3677},"text":{"field":"t"}}},
  {"data":{"values":[{"t":"M30"}]},"mark":{"type":"text","align":"center","baseline":"middle","fontSize":5,"color":"#c8c8d8"},
   "encoding":{"x":{"datum":141.3},"y":{"datum":1.3677},"text":{"field":"t"}}},
  {"data":{"values":[{"t":"H1"}]},"mark":{"type":"text","align":"center","baseline":"middle","fontSize":5,"color":"#c8c8d8"},
   "encoding":{"x":{"datum":143.8},"y":{"datum":1.3677},"text":{"field":"t"}}},
  {"data":{"values":[{"t":"H4"}]},"mark":{"type":"text","align":"center","baseline":"middle","fontSize":5,"color":"#c8c8d8"},
   "encoding":{"x":{"datum":146.4},"y":{"datum":1.3677},"text":{"field":"t"}}},
  {"data":{"values":[{"t":"D1"}]},"mark":{"type":"text","align":"center","baseline":"middle","fontSize":5,"color":"#c8c8d8"},
   "encoding":{"x":{"datum":148.8},"y":{"datum":1.3677},"text":{"field":"t"}}},
  {"data":{"values":[{"t":"1.06089"}]},"mark":{"type":"text","align":"right","baseline":"middle","fontSize":12,"color":"#ff2a2a"},
   "encoding":{"x":{"datum":149.9},"y":{"datum":1.35655},"text":{"field":"t"}}},
  {"data":{"values":[{"t":"Spread"}]},"mark":{"type":"text","align":"right","baseline":"middle","fontSize":8,"color":"#c8c8d8"},
   "encoding":{"x":{"datum":146.3},"y":{"datum":1.35085},"text":{"field":"t"}}},
  {"data":{"values":[{"t":"Pips to Open"}]},"mark":{"type":"text","align":"right","baseline":"middle","fontSize":8,"color":"#c8c8d8"},
   "encoding":{"x":{"datum":146.3},"y":{"datum":1.34645},"text":{"field":"t"}}},
  {"data":{"values":[{"t":"Hi to Low"}]},"mark":{"type":"text","align":"right","baseline":"middle","fontSize":8,"color":"#c8c8d8"},
   "encoding":{"x":{"datum":146.3},"y":{"datum":1.34185},"text":{"field":"t"}}},
  {"data":{"values":[{"t":"Daily Av"}]},"mark":{"type":"text","align":"right","baseline":"middle","fontSize":8,"color":"#c8c8d8"},
   "encoding":{"x":{"datum":145.3},"y":{"datum":1.33771},"text":{"field":"t"}}},
  {"data":{"values":[{"t":"51.0"}]},"mark":{"type":"text","align":"right","baseline":"middle","fontSize":8,"fontWeight":"bold","color":"#f0d840"},
   "encoding":{"x":{"datum":149.9},"y":{"datum":1.35085},"text":{"field":"t"}}},
  {"data":{"values":[{"t":"-15"}]},"mark":{"type":"text","align":"right","baseline":"middle","fontSize":8,"fontWeight":"bold","color":"#ff4a22"},
   "encoding":{"x":{"datum":149.9},"y":{"datum":1.34645},"text":{"field":"t"}}},
  {"data":{"values":[{"t":"246"}]},"mark":{"type":"text","align":"right","baseline":"middle","fontSize":8,"fontWeight":"bold","color":"#f0d840"},
   "encoding":{"x":{"datum":149.9},"y":{"datum":1.34185},"text":{"field":"t"}}},
  {"data":{"values":[{"t":"637.0"}]},"mark":{"type":"text","align":"right","baseline":"middle","fontSize":8,"fontWeight":"bold","color":"#ff4a22"},
   "encoding":{"x":{"datum":149.9},"y":{"datum":1.33771},"text":{"field":"t"}}}
 ]
},
{
 "width":767,"height":47,
 "layer":[
  {"data":{"name":"seps"},"mark":{"type":"rule","strokeDash":[2,2],"color":"#d8d840","strokeWidth":1},
   "encoding":{"x":{"field":"i","type":"quantitative","title":null,"scale":{"domain":[0.1,153.5],"nice":false,"zero":false},"axis":null}}},
  {"data":{"name":"fr"},"mark":{"type":"line","strokeWidth":2,"clip":true},
   "encoding":{"x":{"field":"i","type":"quantitative","title":null,"axis":null},
    "y":{"field":"v","type":"quantitative","title":null,"scale":{"domain":[-31.0266,101.5576],"nice":false,"zero":false},
     "axis":{"orient":"right","values":[101.5576,0,-31.0266],"labelFlush":true,"labelFontSize":5.5,"tickSize":2,"labelPadding":1,"labelExpr":"datum.value == 0 ? '0.00' : format(datum.value, '.4f')"}},
    "detail":{"field":"s","type":"nominal"},
    "color":{"field":"c","type":"nominal","scale":{"domain":["b","o"],"range":["#3399ff","#f4a460"]},"legend":null}}},
  {"data":{"values":[{"t":"FR-Trend (8) 46.3103 46.3103 25.0000 -25.0000"}]},"mark":{"type":"text","align":"left","baseline":"middle","fontSize":6,"color":"#eeeea8"},
   "encoding":{"x":{"datum":0.4},"y":{"datum":86.6},"text":{"field":"t"}}},
  {"data":{"values":[{}]},"mark":{"type":"rule","strokeWidth":2,"yOffset":-1.5,"color":"#a8a838"},
   "encoding":{"y":{"datum":101.5576}}}
 ]
},
{
 "width":767,"height":43,
 "layer":[
  {"data":{"name":"seps"},"mark":{"type":"rule","strokeDash":[2,2],"color":"#d8d840","strokeWidth":1},
   "encoding":{"x":{"field":"i","type":"quantitative","title":null,"scale":{"domain":[0.1,153.5],"nice":false,"zero":false},"axis":null}}},
  {"data":{"values":[{"v":0.0007}]},"mark":{"type":"rule","strokeWidth":3,"color":"#8a1a2a"},
   "encoding":{"y":{"field":"v","type":"quantitative","title":null,"scale":{"domain":[-0.005182,0.004516],"nice":false,"zero":false},
     "axis":{"orient":"right","values":[0.004516,0,-0.005182],"labelFlush":true,"labelFontSize":5,"tickSize":2,"labelPadding":1,"format":".6f"}}}},
  {"data":{"values":[{"v":-0.0002},{"v":-0.0007}]},"mark":{"type":"rule","strokeWidth":1,"strokeDash":[1,2],"color":"#b8b8c8"},
   "encoding":{"y":{"field":"v","type":"quantitative","title":null}}},
  {"data":{"values":[{"v":-0.001}]},"mark":{"type":"rule","strokeWidth":1.5,"color":"#1a9a1a"},
   "encoding":{"y":{"field":"v","type":"quantitative","title":null}}},
  {"data":{"name":"trixB"},"mark":{"type":"line","strokeWidth":1.2,"clip":true},
   "encoding":{"x":{"field":"i","type":"quantitative","title":null,"axis":null},
    "y":{"field":"v","type":"quantitative","title":null},
    "detail":{"field":"s","type":"nominal"},
    "color":{"field":"c","type":"nominal","scale":{"domain":["g","r","G","R"],"range":["#1a9a1a","#b01010","#00ee00","#ff1010"]},"legend":null}}},
  {"data":{"name":"trixA"},"mark":{"type":"line","strokeWidth":3,"clip":true},
   "encoding":{"x":{"field":"i","type":"quantitative","title":null,"axis":null},
    "y":{"field":"v","type":"quantitative","title":null},
    "detail":{"field":"s","type":"nominal"},
    "color":{"field":"c","type":"nominal","scale":{"domain":["g","r","G","R"],"range":["#1a9a1a","#b01010","#00ee00","#ff1010"]},"legend":null}}},
  {"data":{"values":[{"t":"Trix4Kids -0.0021537 -0.0017821 -0.0021537 -0.0017821"}]},"mark":{"type":"text","align":"left","baseline":"middle","fontSize":6,"color":"#eeeea8"},
   "encoding":{"x":{"datum":0.4},"y":{"datum":0.003321},"text":{"field":"t"}}},
  {"data":{"values":[{}]},"mark":{"type":"rule","strokeWidth":2,"yOffset":-1.5,"color":"#a8a838"},
   "encoding":{"y":{"datum":0.004516}}}
 ]
},
{
 "width":767,"height":43,
 "layer":[
  {"data":{"name":"seps"},"mark":{"type":"rule","strokeDash":[2,2],"color":"#d8d840","strokeWidth":1},
   "encoding":{"x":{"field":"i","type":"quantitative","title":null,"scale":{"domain":[0.1,153.5],"nice":false,"zero":false},
     "axis":{"orient":"bottom","title":null,"values":[0,8,16,24,32,40,48,56,64,72,80,88,96,104,112,120,128,136,144,152],"labelAlign":"left","domain":false,"labelOverlap":false,"labelBound":false,"labelFontSize":5.5,"tickSize":2,"labelPadding":1,
      "labelExpr":"['11 Jan 2013','21 Jan 2013','30 Jan 2013','8 Feb 2013','18 Feb 2013','27 Feb 2013','8 Mar 2013','18 Mar 2013','27 Mar 2013','5 Apr 2013','15 Apr 2013','24 Apr 2013','3 May 2013','13 May 2013','22 May 2013','31 May 2013','10 Jun 2013','19 Jun 2013','28 Jun 2013','8 Jul 2013'][round(datum.value/8)]"}}}},
  {"data":{"name":"cci"},"mark":{"type":"bar","size":4,"clip":true},
   "encoding":{"x":{"field":"i","type":"quantitative","title":null},
    "y":{"field":"v","type":"quantitative","title":null,"scale":{"domain":[-163.5365,234.7494],"nice":false,"zero":false},
     "axis":{"orient":"right","values":[234.7494,100,0,-100,-163.5365],"labelFlush":true,"labelFontSize":5,"tickSize":2,"labelPadding":1,"labelExpr":"datum.value == 100 ? '100' : datum.value == 0 ? '0.00' : datum.value == -100 ? '-100' : format(datum.value, '.4f')"}},
    "y2":{"datum":0},
    "color":{"field":"k","type":"nominal","scale":{"domain":["G","g","R","r"],"range":["#00ff00","#4fae84","#ff0000","#9a3038"]},"legend":null}}},
  {"data":{"values":[{"v":100},{"v":0},{"v":-100}]},"mark":{"type":"rule","strokeWidth":1,"strokeDash":[2,2],"color":"#c8c8d8"},
   "encoding":{"y":{"field":"v","type":"quantitative","title":null}}},
  {"data":{"name":"cci"},"mark":{"type":"line","strokeWidth":2,"color":"#1f8f1f","clip":true},
   "encoding":{"x":{"field":"i","type":"quantitative","title":null},"y":{"field":"v","type":"quantitative","title":null}}},
  {"data":{"name":"cciw"},"mark":{"type":"line","strokeWidth":1.5,"color":"#ffffff","clip":true},
   "encoding":{"x":{"field":"i","type":"quantitative","title":null},"y":{"field":"v","type":"quantitative","title":null}}},
  {"data":{"values":[{"t":"(TrendCCI: 63, EntryCCI: 63)  0.0000 -52.4406 -52.4406 0.0000 0.0000 25.8628 -52.4406"}]},"mark":{"type":"text","align":"left","baseline":"middle","fontSize":6,"color":"#eeeea8"},
   "encoding":{"x":{"datum":0.4},"y":{"datum":172.7},"text":{"field":"t"}}},
  {"data":{"values":[{}]},"mark":{"type":"rule","strokeWidth":2,"yOffset":-1.5,"color":"#a8a838"},
   "encoding":{"y":{"datum":234.7494}}}
 ]
}
]
}
